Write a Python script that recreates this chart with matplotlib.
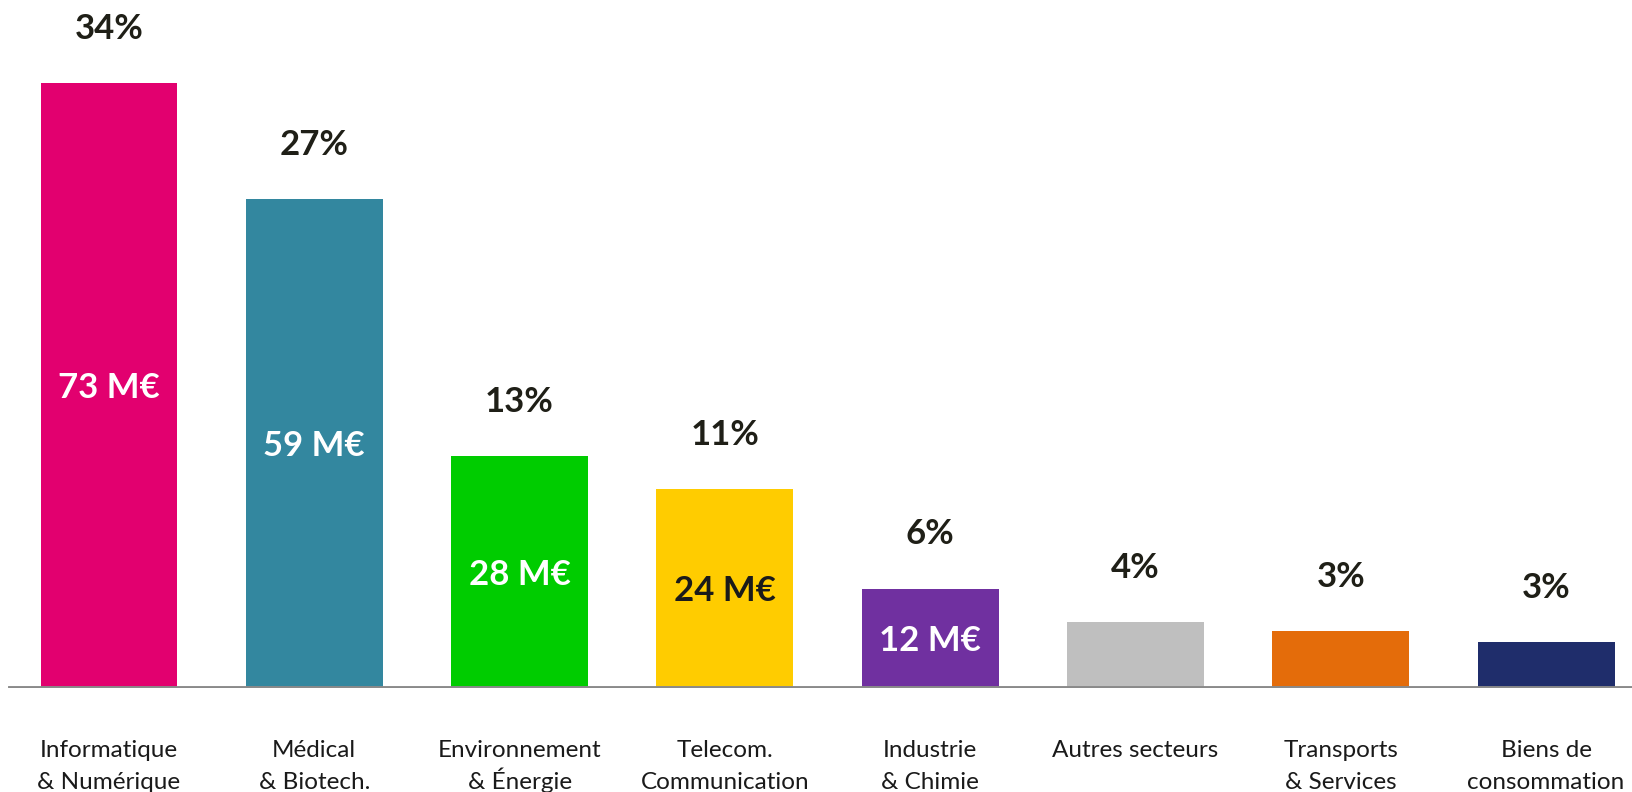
import matplotlib.pyplot as plt

# secteurs et montants (M€)
secteurs = ["Informatique\n& Numérique", "Médical\n& Biotech.", "Environnement\n& Énergie",
            "Telecom.\nCommunication", "Industrie\n& Chimie", "Autres secteurs",
            "Transports\n& Services", "Biens de\nconsommation"]
montants = [73, 59, 28, 24, 12, 8.0, 6.9, 5.5]
parts = ["34%", "27%", "13%", "11%", "6%", "4%", "3%", "3%"]
montant_labels = ["73 M€", "59 M€", "28 M€", "24 M€", "12 M€", "", "", ""]
couleurs = ["#E2006F", "#33879F", "#00CC00", "#FFCC00", "#7030A0", "#BFBFBF", "#E46C0A", "#1F2D6B"]
label_couleurs = ["white", "white", "white", "#1a1a1a", "white", "white", "white", "white"]

plt.rcParams['font.family'] = ['Lato', 'DejaVu Sans']

fig = plt.figure(figsize=(16.32, 7.92), dpi=100)
# axe sur toute la largeur, base des barres à 104 px du bas
ax = fig.add_axes([0, 104 / 792, 1, 688 / 792])

step = 205.3
ax.set_xlim(-109 / step, (1632 - 109) / step)
ax.set_ylim(0, 688 / 8.29)
ax.axis('off')

xs = range(len(secteurs))
ax.bar(xs, montants, width=0.667, color=couleurs, zorder=2)

# ligne de base grise
ax.axhline(0, xmin=10 / 1632, xmax=1, color="#8a8a8a", lw=2.8, zorder=3)

for x, m, p, ml, lc, s in zip(xs, montants, parts, montant_labels, label_couleurs, secteurs):
    ax.annotate(p, xy=(x, m), xytext=(0, 39), textcoords='offset points',
                ha='center', va='center', fontsize=25, fontweight='bold', color="#1f1f17")
    if ml:
        ax.annotate(ml, xy=(x, m / 2), xytext=(0, -2), textcoords='offset points',
                    ha='center', va='center', fontsize=25,
                    fontweight='bold', color=lc)
    # une ligne à la fois pour garder le même interligne (É)
    for i, ligne in enumerate(s.split("\n")):
        ax.annotate(ligne, xy=(x, 0), xytext=(0, -50 - 23 * i), textcoords='offset points',
                    ha='center', va='baseline', fontsize=17.5, color="#1a1a1a",
                    annotation_clip=False)

fig.savefig("out.png", dpi=100)
